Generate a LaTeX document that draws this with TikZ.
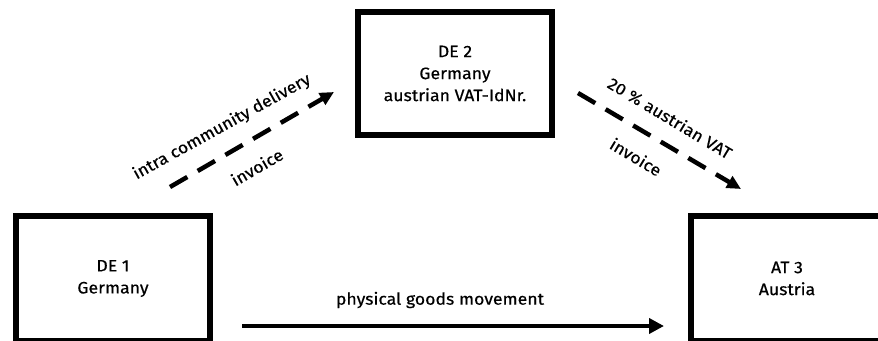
\documentclass[tikz,border=0pt]{standalone}
\usepackage{fontspec}
\setmainfont{Fira Sans}[FakeBold=0.5, FakeStretch=1.07]
\usetikzlibrary{arrows.meta}
\begin{document}
\begin{tikzpicture}[x=1pt,y=-1pt,
  every node/.style={font=\fontsize{16.5}{22}\selectfont, align=center, inner sep=0pt},
  party/.style={draw, line width=5.5pt, rectangle},
  flow/.style={line width=4.5pt, -{Triangle[length=15pt,width=15pt]}},
  billing/.style={line width=4.5pt, dash pattern=on 20pt off 12pt, -{Triangle[length=14pt,width=13pt]}},
  tag/.style={}
]
  \path[use as bounding box] (0,0) rectangle (878,340);
  \clip (0,0) rectangle (878,340);

  % parties
  \node[party, minimum width=194pt, minimum height=125pt] (de1) at (113,278.5) {DE 1\\Germany};
  \node[party, minimum width=194pt, minimum height=123pt] (de2) at (455,73.5) {DE 2\\Germany\\austrian VAT-IdNr.};
  \node[party, minimum width=192pt, minimum height=125pt] (at3) at (787,278.5) {AT 3\\Austria};

  % arrow end points
  \coordinate (icdA) at (170,187);
  \coordinate (icdB) at (334,92);
  \coordinate (vatA) at (578,93);
  \coordinate (vatB) at (741,189);
  \coordinate (pgmA) at (242,326);
  \coordinate (pgmB) at (664,326);

  % invoice flows
  \draw[billing] (icdA) -- (icdB);
  \draw[billing] (vatA) -- (vatB);
  \node[tag, rotate=29] (icdT) at (222,127) {intra community delivery};
  \node[tag, rotate=30] (icdI) at (257,167) {invoice};
  \node[tag, rotate=-31] (vatT) at (670,118) {20 \% austrian VAT};
  \node[tag, rotate=-31] (vatI) at (636,157) {invoice};

  % goods flow
  \draw[flow] (pgmA) -- (pgmB);
  \node[tag] (pgmT) at (440,300) {physical goods movement};
\end{tikzpicture}
\end{document}
